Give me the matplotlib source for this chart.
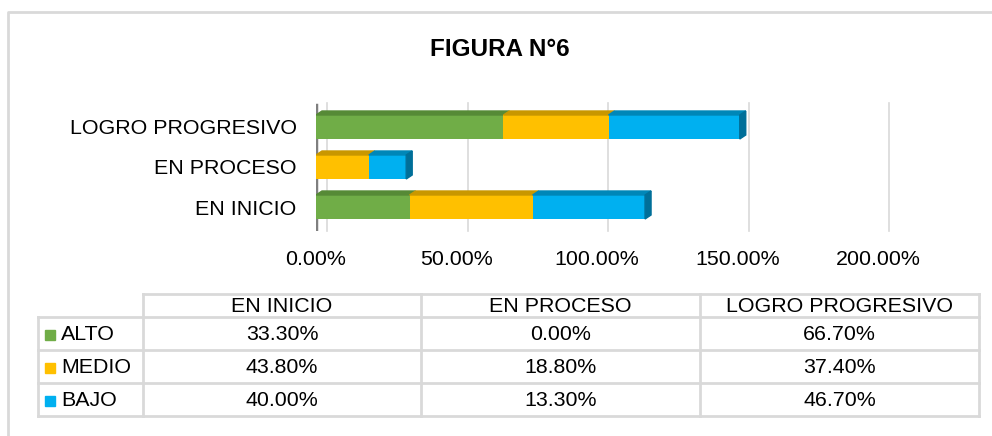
import matplotlib.pyplot as plt
from matplotlib.patches import Polygon, Rectangle
import matplotlib.transforms as mtransforms

plt.rcParams['font.family'] = ['Liberation Sans', 'DejaVu Sans']

categorias = ['EN INICIO', 'EN PROCESO', 'LOGRO PROGRESIVO']
alto = [33.3, 0.0, 66.7]
medio = [43.8, 18.8, 37.4]
bajo = [40.0, 13.3, 46.7]
series = ['ALTO', 'MEDIO', 'BAJO']
colores = ['#70AD47', '#FFC000', '#00B0F0']
sombras = ['#568a36', '#c99700', '#0087b8']
ticks = [0, 50, 100, 150, 200]

W, H = 992, 436
fs = 15.4
fig = plt.figure(figsize=(W / 100, H / 100), dpi=100)

# fondo en pixeles para marco y tabla
bg = fig.add_axes([0, 0, 1, 1])
bg.set_xlim(0, W)
bg.set_ylim(H, 0)
bg.axis('off')
gris = '#d9d9d9'
bg.plot([8, 8, W], [H, 12, 12], color=gris, lw=2)

bg.text(W / 2 + 4, 49, 'FIGURA N°6', ha='center', va='center',
        fontsize=17.5, fontweight='bold')

# grafico de barras
x0, x1 = 316, 878
ytop, ybot = 103, 231
ax = fig.add_axes([x0 / W, 1 - ybot / H, (x1 - x0) / W, (ybot - ytop) / H])
ax.set_xlim(0, 200)
ax.set_ylim(-0.6, 2.6)
ax.patch.set_alpha(0)
for s in ax.spines.values():
    s.set_visible(False)

off = mtransforms.ScaledTranslation(11 / 100, 0, fig.dpi_scale_trans)
for t in ticks:
    ax.plot([t, t], [0, 1], color=gris, lw=1.2,
            transform=ax.get_xaxis_transform() + off, zorder=0, clip_on=False)
ax.plot([0, 0], [-0.55, 2.55], color='#7f7f7f', lw=2.5, zorder=1)

h = 0.6
dx = 6 / 2.81
dy = 0.1
ypos = range(len(categorias))
izq = [0] * len(categorias)
for k, vals in enumerate([alto, medio, bajo]):
    ax.barh(ypos, vals, left=izq, height=h, color=colores[k], zorder=3)
    for i, v in enumerate(vals):
        if v <= 0:
            continue
        l = izq[i]
        top = [(l, i + h / 2), (l + v, i + h / 2), (l + v + dx, i + h / 2 + dy),
               (l + dx, i + h / 2 + dy)]
        ax.add_patch(Polygon(top, closed=True, color=sombras[k], zorder=3))
    izq = [a + b for a, b in zip(izq, vals)]

for i, tot in enumerate(izq):
    side = [(tot, i - h / 2), (tot + dx, i - h / 2 + dy),
            (tot + dx, i + h / 2 + dy), (tot, i + h / 2)]
    ax.add_patch(Polygon(side, closed=True, color='#006f99', zorder=3))

ax.set_xticks(ticks)
ax.set_xticklabels(['{:.2f}%'.format(t) for t in ticks], fontsize=fs)
ax.set_yticks(list(ypos))
ax.set_yticklabels(categorias, fontsize=fs)
ax.tick_params(axis='x', length=0, pad=14)
ax.tick_params(axis='y', length=0, pad=14)

# tabla de datos
cols = [143, 421, 700, 979]
filas = [294, 317, 350, 383, 416]
bg.plot([cols[0], cols[-1]], [filas[0]] * 2, color=gris, lw=2)
for y in filas[1:]:
    bg.plot([38, cols[-1]], [y, y], color=gris, lw=2)
bg.plot([38, 38], [filas[1], filas[-1]], color=gris, lw=2)
for x in cols:
    bg.plot([x, x], [filas[0], filas[-1]], color=gris, lw=2)

for j, c in enumerate(categorias):
    bg.text((cols[j] + cols[j + 1]) / 2, (filas[0] + filas[1]) / 2 + 1, c,
            ha='center', va='center', fontsize=fs)

for k, vals in enumerate([alto, medio, bajo]):
    yc = (filas[k + 1] + filas[k + 2]) / 2 + 1
    bg.add_patch(Rectangle((45, yc - 5), 10, 10, color=colores[k]))
    bg.text(61, yc, series[k], ha='left', va='center', fontsize=fs)
    for j, v in enumerate(vals):
        bg.text((cols[j] + cols[j + 1]) / 2, yc, '{:.2f}%'.format(v),
                ha='center', va='center', fontsize=fs)

fig.savefig('out.png', dpi=100)
